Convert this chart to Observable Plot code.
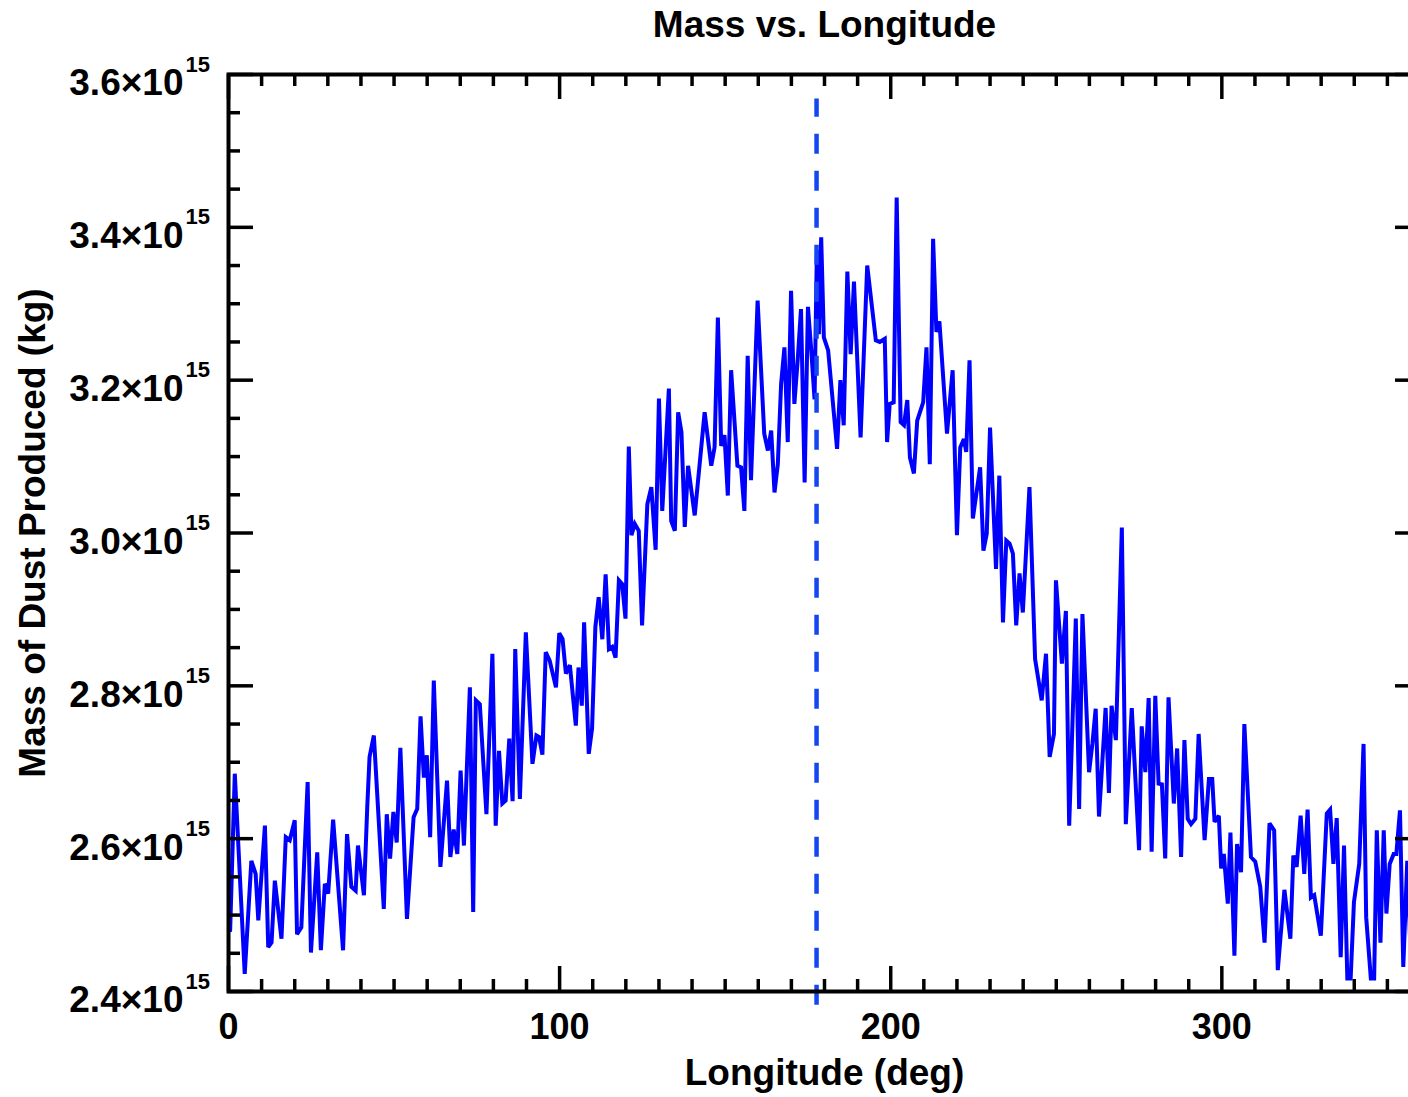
<!DOCTYPE html>
<html>
<head>
<meta charset="utf-8">
<script src="https://cdn.jsdelivr.net/npm/d3@7"></script>
<script src="https://cdn.jsdelivr.net/npm/@observablehq/plot@0.6"></script>
<style>
  html, body { margin: 0; padding: 0; background: #fff; overflow: hidden; }
  #chart { width: 1408px; height: 1097px; overflow: hidden; }
  #chart svg { max-width: none !important; }
</style>
</head>
<body>
<div id="chart"></div>
<script>
// Longitude (deg)
const longitude = [
  0.5, 1.9, 4.9, 6.9, 8.2, 9.0, 11.0, 12.0, 13.0, 14.0, 16.0, 17.3, 18.5, 20.0, 20.7, 22.0, 23.9, 24.9, 26.8, 27.9,
  29.1, 30.1, 31.6, 34.6, 35.8, 37.1, 38.4, 39.1, 40.9, 41.9, 42.6, 43.9, 46.9, 47.8, 48.8, 49.8, 50.8, 51.9, 53.9, 55.9,
  57.0, 58.0, 59.0, 59.9, 60.9, 62.0, 64.0, 66.0, 67.0, 68.0, 69.1, 70.1, 71.1, 72.9, 73.9, 74.7, 75.9, 77.9, 79.7, 80.7,
  81.7, 82.7, 83.7, 84.8, 85.8, 86.6, 88.0, 89.8, 91.8, 93.0, 93.8, 94.8, 95.8, 97.0, 98.9, 99.9, 100.9, 101.9, 103.1, 104.9,
  105.7, 106.7, 107.4, 108.8, 109.8, 110.8, 111.8, 112.9, 113.9, 114.9, 115.9, 116.9, 117.9, 118.9, 119.9, 120.9, 121.7, 122.7, 123.9, 124.9,
  126.5, 127.7, 129.0, 130.0, 131.0, 133.0, 133.7, 134.8, 135.8, 136.8, 137.8, 138.8, 140.8, 143.8, 145.8, 146.8, 147.8, 148.8, 149.8, 150.8,
  151.8, 153.7, 154.8, 155.8, 156.8, 157.8, 159.8, 161.8, 162.9, 163.9, 164.9, 165.9, 166.9, 167.9, 168.9, 169.9, 170.9, 171.9, 172.9, 174.0,
  175.0, 176.0, 177.0, 177.7, 178.3, 179.0, 179.8, 181.1, 183.8, 184.8, 185.8, 186.9, 187.9, 188.9, 190.9, 192.9, 195.5, 196.7, 198.2, 198.9,
  199.7, 200.9, 201.8, 203.0, 204.0, 205.0, 205.8, 207.0, 208.0, 209.8, 210.8, 211.8, 212.8, 213.8, 214.7, 217.0, 218.7, 220.0, 221.0, 222.1,
  222.8, 223.8, 224.8, 227.0, 228.0, 229.0, 230.0, 231.8, 232.8, 233.9, 234.9, 235.9, 236.9, 237.9, 238.9, 239.9, 241.9, 243.6, 245.6, 246.9,
  248.0, 249.3, 249.9, 251.7, 252.9, 253.9, 255.9, 256.9, 257.9, 259.9, 260.9, 261.9, 262.9, 264.9, 265.9, 266.7, 268.0, 269.8, 271.0, 272.8,
  275.0, 275.8, 276.9, 277.9, 278.8, 279.9, 280.9, 281.9, 282.9, 283.9, 285.5, 286.5, 287.7, 288.7, 289.7, 290.7, 292.0, 293.0, 294.8, 296.1,
  297.1, 297.8, 299.1, 299.8, 300.6, 301.8, 302.6, 303.8, 304.6, 305.8, 306.8, 308.8, 310.1, 311.6, 312.9, 314.4, 315.8, 316.9, 318.9, 320.7,
  321.6, 322.6, 323.8, 324.9, 325.9, 326.9, 327.9, 329.9, 331.7, 332.7, 333.7, 334.7, 335.9, 336.9, 337.9, 338.9, 339.9, 341.5, 342.8, 343.6,
  345.0, 346.0, 346.8, 347.9, 348.9, 349.7, 350.7, 351.9, 352.7, 353.8, 354.8, 356.0, 357.0
];
// Mass of dust produced, in units of 10^15 kg
const massE15 = [
  2.480, 2.685, 2.423, 2.571, 2.554, 2.493, 2.617, 2.458, 2.464, 2.545, 2.469, 2.602, 2.598, 2.624, 2.475, 2.484, 2.674, 2.451, 2.582, 2.454,
  2.541, 2.528, 2.625, 2.454, 2.606, 2.537, 2.532, 2.591, 2.526, 2.641, 2.707, 2.735, 2.508, 2.632, 2.574, 2.635, 2.595, 2.719, 2.495, 2.628,
  2.639, 2.760, 2.680, 2.709, 2.602, 2.807, 2.563, 2.676, 2.576, 2.612, 2.580, 2.689, 2.591, 2.798, 2.504, 2.781, 2.776, 2.632, 2.842, 2.617,
  2.715, 2.646, 2.650, 2.731, 2.649, 2.848, 2.652, 2.870, 2.698, 2.735, 2.733, 2.710, 2.844, 2.833, 2.798, 2.869, 2.861, 2.816, 2.827, 2.748,
  2.824, 2.774, 2.883, 2.711, 2.744, 2.877, 2.916, 2.861, 2.946, 2.848, 2.851, 2.837, 2.938, 2.933, 2.888, 3.113, 2.997, 3.012, 3.003, 2.879,
  3.038, 3.060, 2.978, 3.176, 3.029, 3.189, 3.016, 3.003, 3.158, 3.132, 3.008, 3.088, 3.023, 3.158, 3.088, 3.112, 3.282, 3.114, 3.128, 3.049,
  3.213, 3.088, 3.086, 3.029, 3.232, 3.069, 3.304, 3.130, 3.108, 3.134, 3.053, 3.090, 3.195, 3.243, 3.119, 3.317, 3.169, 3.226, 3.293, 3.066,
  3.296, 3.239, 3.175, 3.370, 3.260, 3.387, 3.256, 3.239, 3.110, 3.200, 3.141, 3.342, 3.234, 3.329, 3.125, 3.350, 3.252, 3.250, 3.254, 3.119,
  3.169, 3.171, 3.439, 3.145, 3.141, 3.174, 3.099, 3.078, 3.147, 3.171, 3.243, 3.090, 3.385, 3.263, 3.277, 3.130, 3.213, 2.997, 3.112, 3.123,
  3.106, 3.226, 3.019, 3.086, 2.977, 2.999, 3.138, 2.953, 3.075, 2.883, 2.990, 2.986, 2.973, 2.879, 2.947, 2.896, 3.060, 2.835, 2.781, 2.842,
  2.707, 2.737, 2.938, 2.829, 2.898, 2.617, 2.888, 2.639, 2.894, 2.687, 2.724, 2.770, 2.629, 2.771, 2.660, 2.774, 2.729, 3.007, 2.619, 2.771,
  2.585, 2.747, 2.687, 2.784, 2.583, 2.787, 2.672, 2.671, 2.574, 2.785, 2.646, 2.718, 2.576, 2.729, 2.626, 2.619, 2.626, 2.737, 2.598, 2.678,
  2.678, 2.622, 2.630, 2.561, 2.580, 2.515, 2.608, 2.447, 2.593, 2.556, 2.750, 2.576, 2.570, 2.537, 2.464, 2.620, 2.611, 2.428, 2.533, 2.469,
  2.578, 2.563, 2.630, 2.554, 2.638, 2.523, 2.526, 2.473, 2.633, 2.638, 2.567, 2.627, 2.445, 2.591, 2.417, 2.417, 2.517, 2.567, 2.724, 2.497,
  2.417, 2.417, 2.611, 2.464, 2.611, 2.502, 2.567, 2.580, 2.580, 2.637, 2.432, 2.571, 2.450
];
// Reference longitude (dashed line) and its vertical extent (×10^15 kg)
const refLongitude = [177.6];
const refExtent = [2.382, 3.568];

// Axes
const xDomain = [0, 360];
const yDomain = [2.4, 3.6];
const xMajor = [0, 100, 200, 300];
const xMinor = d3.range(10, 360, 10).filter(v => v % 100 !== 0);
const yMajor = [2.4, 2.6, 2.8, 3.0, 3.2, 3.4, 3.6];
const yMinor = d3.range(0, 25).map(i => 2.4 + i * 0.05).filter((v, i) => i % 4 !== 0);
const yExponent = "15";

const titleText = "Mass vs. Longitude";
const xLabel = "Longitude (deg)";
const yLabel = "Mass of Dust Produced (kg)";

const data = longitude.map((lon, i) => ({lon, mass: massE15[i]}));

const W = 1430, H = 1097;
const mL = 228, mT = 74, mR = 10, mB = 106;
const plotW = W - mL - mR, plotH = H - mT - mB;
const major = 25, minor = 12;
const font = "'Liberation Sans', Arial, Helvetica, sans-serif";
const tickStyle = {stroke: "black", strokeWidth: 3.5};
const txt = {fontWeight: "bold", fill: "black", lineAnchor: "middle"};

const chart = Plot.plot({
  width: W, height: H,
  marginLeft: mL, marginTop: mT, marginRight: mR, marginBottom: mB,
  x: {domain: xDomain, axis: null},
  y: {domain: yDomain, axis: null},
  style: {fontFamily: font, background: "white", overflow: "visible"},
  marks: [
    Plot.line(data, {x: "lon", y: "mass", stroke: "#0000ff", strokeWidth: 4, strokeLinejoin: "miter", strokeMiterlimit: 3}),
    Plot.ruleX(refLongitude, {x: d => d, y1: refExtent[0], y2: refExtent[1], stroke: "#1447f2", strokeWidth: 4.5, strokeDasharray: "20,17"}),
    // bottom ticks
    Plot.tickX(xMajor, {x: d => d, insetTop: plotH - major, ...tickStyle}),
    Plot.tickX(xMinor, {x: d => d, insetTop: plotH - minor, ...tickStyle}),
    // top ticks
    Plot.tickX(xMajor, {x: d => d, insetBottom: plotH - major, ...tickStyle}),
    Plot.tickX(xMinor, {x: d => d, insetBottom: plotH - minor, ...tickStyle}),
    // left ticks
    Plot.tickY(yMajor, {y: d => d, insetRight: plotW - major, ...tickStyle}),
    Plot.tickY(yMinor, {y: d => d, insetRight: plotW - minor, ...tickStyle}),
    // right ticks
    Plot.tickY(yMajor, {y: d => d, insetLeft: plotW - major, ...tickStyle}),
    Plot.tickY(yMinor, {y: d => d, insetLeft: plotW - minor, ...tickStyle}),
    Plot.frame({stroke: "black", strokeWidth: 4}),
    // y tick labels
    Plot.text(yMajor, {y: d => d, text: d => d.toFixed(1) + "×10", frameAnchor: "left", textAnchor: "end", dx: -45, dy: 9, fontSize: 37, ...txt}),
    Plot.text(yMajor, {y: d => d, text: () => yExponent, frameAnchor: "left", textAnchor: "start", dx: -43, dy: -10, fontSize: 22, ...txt}),
    // x tick labels
    Plot.text(xMajor, {x: d => d, text: d => String(d), frameAnchor: "bottom", dy: 36, fontSize: 36, ...txt}),
    // axis labels & title
    Plot.text([xLabel], {text: d => d, frameAnchor: "bottom", dy: 82, fontSize: 37, ...txt}),
    Plot.text([yLabel], {text: d => d, frameAnchor: "left", textAnchor: "middle", rotate: -90, dx: -195, fontSize: 37, ...txt}),
    Plot.text([titleText], {text: d => d, frameAnchor: "top", dy: -49, fontSize: 37, ...txt})
  ]
});
document.getElementById("chart").appendChild(chart);
</script>
</body>
</html>
